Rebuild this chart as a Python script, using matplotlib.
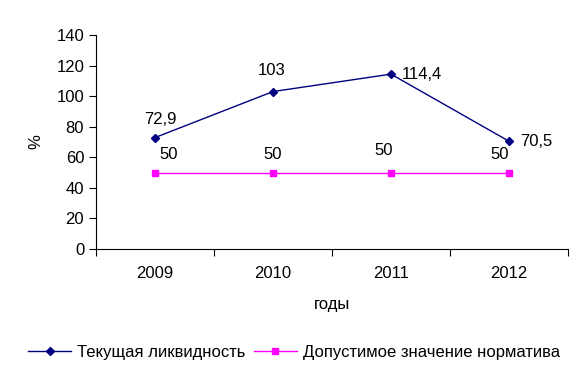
import matplotlib.pyplot as plt
from matplotlib import rcParams

rcParams['font.family'] = ['Liberation Sans', 'DejaVu Sans']
rcParams['font.size'] = 12

years = ['2009', '2010', '2011', '2012']
liquidity = [72.9, 103, 114.4, 70.5]
liquidity_labels = ['72,9', '103', '114,4', '70,5']
norm = [50, 50, 50, 50]
norm_labels = ['50', '50', '50', '50']

fig = plt.figure(figsize=(5.88, 3.76), dpi=100)
ax = fig.add_axes([96 / 588, 1 - 249 / 376, 472 / 588, 214 / 376])

x = list(range(len(years)))
ax.plot(x, liquidity, color='#000080', marker='D', markersize=4.5, linewidth=1,
        label='Текущая ликвидность')
ax.plot(x, norm, color='#FF00FF', marker='s', markersize=5, linewidth=1,
        label='Допустимое значение норматива')

# data labels (offsets in points)
liq_off = [(4, 13), (-1, 15), (8, 0), (8, 0)]
for xi, v, t, off in zip(x, liquidity, liquidity_labels, liq_off):
    ha = 'left' if off[1] == 0 else 'center'
    ax.annotate(t, (xi, v), xytext=off, textcoords='offset points',
                ha=ha, va='center')
norm_off = [(10, 13), (0, 13), (-5, 16), (-7, 13)]
for xi, v, t, off in zip(x, norm, norm_labels, norm_off):
    ax.annotate(t, (xi, v), xytext=off, textcoords='offset points',
                ha='center', va='center')

ax.set_xlim(-0.5, 3.5)
ax.set_ylim(0, 140)
ax.set_yticks(range(0, 141, 20))
ax.set_xticks([i - 0.5 for i in range(5)])
ax.set_xticklabels([])
ax.set_xticks(x, minor=True)
ax.set_xticklabels(years, minor=True)
ax.tick_params(axis='x', which='minor', length=0, pad=12)
ax.tick_params(axis='x', which='major', length=5, direction='out')
ax.tick_params(axis='y', length=5, direction='out')

for s in ['top', 'right']:
    ax.spines[s].set_visible(False)

ax.set_xlabel('годы', labelpad=12)
ax.set_ylabel('%')
ax.yaxis.set_label_coords(-53 / 472, 0.5)

fig.legend(loc='center', bbox_to_anchor=(0.5, 1 - 352 / 376), ncol=2,
           frameon=False, handlelength=2.6, columnspacing=0.5, handletextpad=0.35)

fig.savefig('out.png', dpi=100)
